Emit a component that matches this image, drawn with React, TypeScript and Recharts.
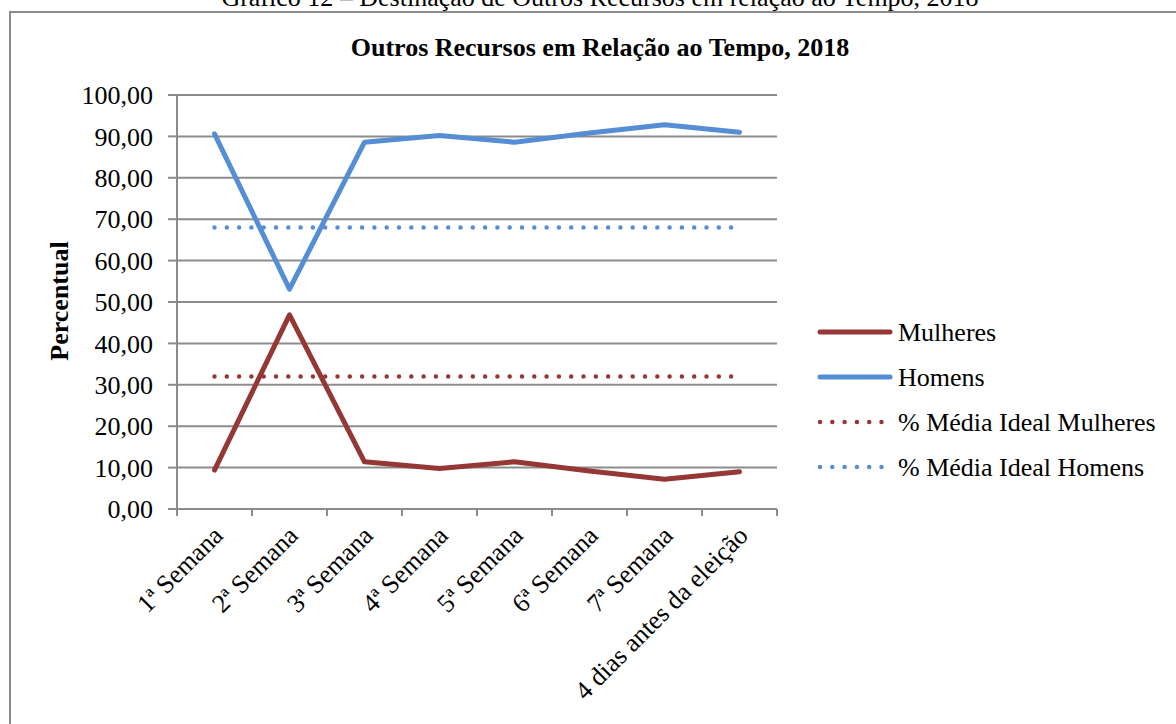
import { CartesianGrid, Legend, Line, LineChart, XAxis, YAxis } from "recharts";

const CATEGORIES = [
  "1ª Semana",
  "2ª Semana",
  "3ª Semana",
  "4ª Semana",
  "5ª Semana",
  "6ª Semana",
  "7ª Semana",
  "4 dias antes da eleição",
];
const MULHERES = [9.4, 46.9, 11.4, 9.8, 11.4, 9.2, 7.2, 9.0];
const HOMENS = [90.6, 53.1, 88.6, 90.2, 88.6, 90.8, 92.8, 91.0];
const IDEAL_MULHERES = [32, 32, 32, 32, 32, 32, 32, 32];
const IDEAL_HOMENS = [68, 68, 68, 68, 68, 68, 68, 68];
const Y_TICKS = [0, 10, 20, 30, 40, 50, 60, 70, 80, 90, 100];

const RED = "#953735";
const BLUE = "#558ed5";
const GRID = "#8c8c8c";
const FONT = "'Liberation Serif', 'Times New Roman', serif";
const DOTS = "0 12.3";

const SERIES = [
  { key: "mulheres", name: "Mulheres", color: RED, dotted: false },
  { key: "homens", name: "Homens", color: BLUE, dotted: false },
  { key: "idealM", name: "% Média Ideal Mulheres", color: RED, dotted: true },
  { key: "idealH", name: "% Média Ideal Homens", color: BLUE, dotted: true },
];

const data = CATEGORIES.map((cat, i) => ({
  cat,
  mulheres: MULHERES[i],
  homens: HOMENS[i],
  idealM: IDEAL_MULHERES[i],
  idealH: IDEAL_HOMENS[i],
}));

const fmt = (v: number) => v.toFixed(2).replace(".", ",");

function XTick(props: any) {
  const { x, y, payload, index } = props;
  const half = payload?.offset || 37.5;
  const last = index === CATEGORIES.length - 1;
  const ax = x + 10;
  const ay = y + 28;
  return (
    <g>
      <line x1={x - half} x2={x - half} y1={y} y2={y + 7} stroke={GRID} strokeWidth={2} />
      {last && <line x1={x + half} x2={x + half} y1={y} y2={y + 7} stroke={GRID} strokeWidth={2} />}
      <text
        x={ax}
        y={ay}
        transform={`rotate(-45 ${ax} ${ay})`}
        textAnchor="end"
        style={{ fontFamily: FONT }}
        fontSize={26}
        fill="#000"
      >
        {payload.value}
      </text>
    </g>
  );
}

function LegendBox() {
  return (
    <svg width={366} height={180}>
      {SERIES.map((s, i) => {
        const cy = 22 + i * 45;
        return (
          <g key={s.key}>
            <line
              x1={10}
              x2={s.dotted ? 78 : 80}
              y1={cy}
              y2={cy}
              stroke={s.color}
              strokeWidth={s.dotted ? 4.5 : 5}
              strokeLinecap="round"
              strokeDasharray={s.dotted ? DOTS : undefined}
            />
            <text x={88} y={cy} dominantBaseline="central" style={{ fontFamily: FONT }} fontSize={26} fill="#000">
              {s.name}
            </text>
          </g>
        );
      })}
    </svg>
  );
}

export default function App() {
  return (
    <div style={{ position: "absolute", left: 0, top: 0, width: 1176, height: 724, background: "#fff", overflow: "hidden", fontFamily: FONT }}>
      <LineChart width={1176} height={724} data={data} margin={{ top: 95, right: 399, bottom: 0, left: 0 }}>
        <CartesianGrid horizontal vertical={false} stroke={GRID} strokeWidth={2} />
        <XAxis
          dataKey="cat"
          scale="band"
          height={215}
          interval={0}
          tickSize={0}
          tickMargin={0}
          tickLine={false}
          axisLine={{ stroke: GRID, strokeWidth: 2 }}
          tick={<XTick />}
        />
        <YAxis
          width={177}
          domain={[0, 100]}
          ticks={Y_TICKS}
          interval={0}
          tickFormatter={fmt}
          tickSize={9}
          tickMargin={15}
          axisLine={{ stroke: GRID, strokeWidth: 2 }}
          tickLine={{ stroke: GRID, strokeWidth: 2 }}
          tick={{ fontFamily: FONT, fontSize: 26, fill: "#000" }}
        />
        {SERIES.map((s) => (
          <Line
            key={s.key}
            type="linear"
            dataKey={s.key}
            name={s.name}
            stroke={s.color}
            strokeWidth={s.dotted ? 4.5 : 5}
            strokeLinecap="round"
            strokeLinejoin="round"
            strokeDasharray={s.dotted ? DOTS : undefined}
            dot={false}
            activeDot={false}
            isAnimationActive={false}
          />
        ))}
        <Legend
          layout="horizontal"
          align="center"
          verticalAlign="middle"
          content={() => <LegendBox />}
          wrapperStyle={{ left: 810, top: 310, width: 366, height: 180 }}
        />
      </LineChart>
      <svg width={1176} height={724} style={{ position: "absolute", left: 0, top: 0, pointerEvents: "none" }}>
        <rect x={10} y={12} width={1200} height={800} fill="none" stroke={GRID} strokeWidth={2} />
        <text x={600} y={6} textAnchor="middle" style={{ fontFamily: FONT }} fontSize={26} fill="#000">
          Gráfico 12 – Destinação de Outros Recursos em relação ao Tempo, 2018
        </text>
        <text x={600} y={56} textAnchor="middle" style={{ fontFamily: FONT }} fontSize={26} fontWeight="bold" fill="#000">
          Outros Recursos em Relação ao Tempo, 2018
        </text>
        <text
          transform="translate(68 301) rotate(-90)"
          textAnchor="middle"
          style={{ fontFamily: FONT }}
          fontSize={26}
          fontWeight="bold"
          fill="#000"
        >
          Percentual
        </text>
      </svg>
    </div>
  );
}
